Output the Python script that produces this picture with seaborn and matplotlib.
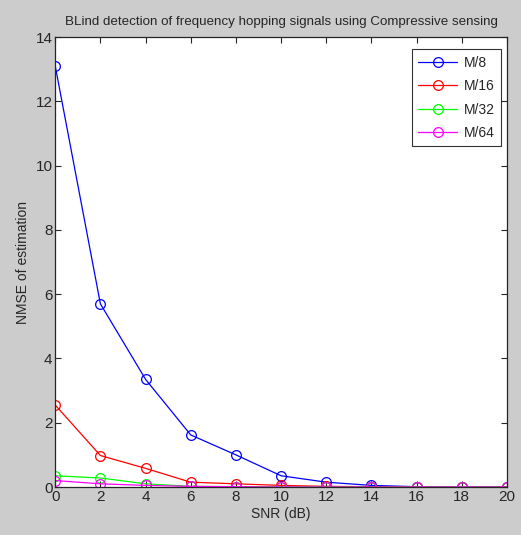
import matplotlib
matplotlib.use('Agg')
import matplotlib.pyplot as plt
import pandas as pd
import seaborn as sns

snr = [0, 2, 4, 6, 8, 10, 12, 14, 16, 18, 20]
m8 = [13.1, 5.7, 3.35, 1.62, 1.0, 0.35, 0.15, 0.05, 0.01, 0.0, 0.0]
m16 = [2.55, 0.98, 0.58, 0.15, 0.1, 0.05, 0.02, 0.01, 0.0, 0.0, 0.0]
m32 = [0.35, 0.28, 0.1, 0.02, 0.01, 0.0, 0.0, 0.0, 0.0, 0.0, 0.0]
m64 = [0.2, 0.1, 0.05, 0.02, 0.01, 0.0, 0.0, 0.0, 0.0, 0.0, 0.0]
labels = ['M/8', 'M/16', 'M/32', 'M/64']
colors = ['#0000ff', '#ff0000', '#00ff00', '#ff00ff']

sns.set_style('ticks')
plt.rcParams['font.family'] = ['Liberation Sans', 'DejaVu Sans']
plt.rcParams['xtick.direction'] = 'in'
plt.rcParams['ytick.direction'] = 'in'

fig = plt.figure(figsize=(5.21, 5.35), dpi=100, facecolor='#cccccc')
ax = fig.add_axes([0.106, 0.0897, 0.867, 0.841])
ax.set_facecolor('white')

for vals, lab, col in zip([m8, m16, m32, m64], labels, colors):
    df = pd.DataFrame({'snr': snr, 'nmse': vals})
    sns.lineplot(data=df, x='snr', y='nmse', ax=ax, color=col, label=lab,
                 marker='o', markersize=7, markerfacecolor='none',
                 markeredgecolor=col, markeredgewidth=0.9, linewidth=0.9)

ax.set_xlim(0, 20)
ax.set_ylim(0, 14)
ax.set_xticks(range(0, 21, 2))
ax.set_yticks(range(0, 15, 2))
ax.tick_params(top=True, right=True, length=4, width=0.8, labelsize=11, pad=2)
for s in ax.spines.values():
    s.set_linewidth(0.9)
    s.set_visible(True)
ax.set_title('BLind detection of frequency hopping signals using Compressive sensing',
             fontsize=9.6, pad=9)
ax.set_xlabel('SNR (dB)', fontsize=10, labelpad=2)
ax.set_ylabel('NMSE of estimation', fontsize=10, labelpad=4)

leg = ax.legend(loc='upper right', bbox_to_anchor=(1.0, 0.985), fontsize=10,
                frameon=True, fancybox=False, edgecolor='black',
                handlelength=2.8, borderpad=0.45, labelspacing=0.68,
                borderaxespad=0.4, handletextpad=0.5)
leg.get_frame().set_linewidth(0.8)

fig.savefig('out.png', dpi=100, facecolor=fig.get_facecolor())
